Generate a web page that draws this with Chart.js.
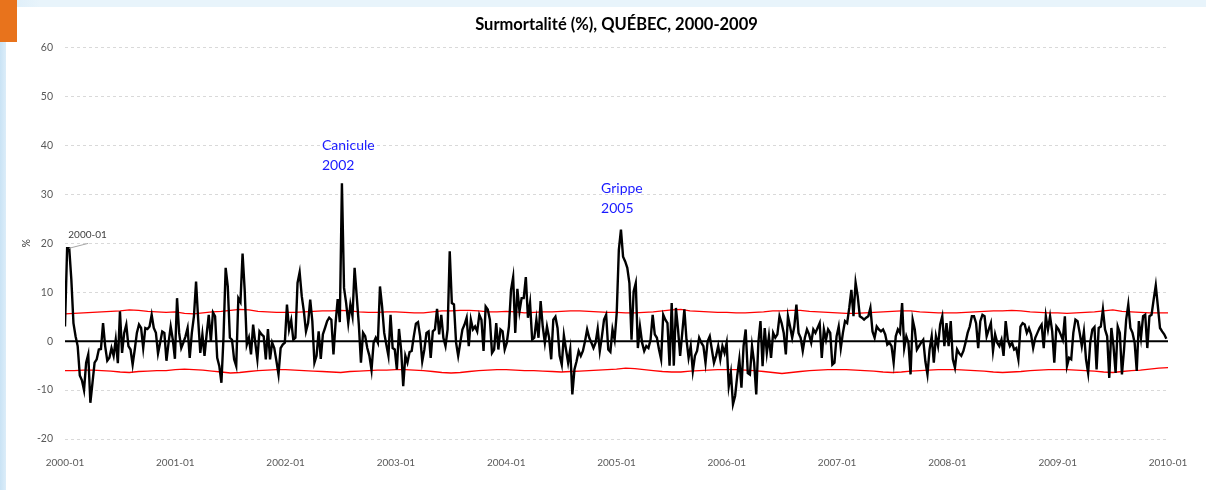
<!DOCTYPE html>
<html>
<head>
<meta charset="utf-8">
<script src="https://cdn.jsdelivr.net/npm/chart.js@4"></script>
<style>
  html, body { margin: 0; padding: 0; }
  body {
    width: 1206px; height: 490px; overflow: hidden; position: relative;
    background: linear-gradient(to right, #c9e3f5 0px, #dcedf9 6px, #e8f4fb 40px, #e8f4fb 100%);
  }
  #panel { position: absolute; left: 6px; top: 7px; width: 1200px; height: 483px; background: #fff; }
  #tab { position: absolute; left: 0; top: 0; width: 17px; height: 42px; background: #e8731c; }
  canvas { display: block; }
</style>
</head>
<body>
<div id="panel"><canvas id="myChart" width="1200" height="483"></canvas></div>
<div id="tab"></div>
<script>
// tick labels of the time axis
const yearLabels = ['2000-01', '2001-01', '2002-01', '2003-01', '2004-01', '2005-01',
  '2006-01', '2007-01', '2008-01', '2009-01', '2010-01']

// weekly excess mortality (%), one row per year
const excess = [
  3, 19, 19, 12.6, 3.7, 1, -1, -7, -8, -10, -4.4, -2.7, -12.6, -8.5, -4.4, -3.7, -1.7, -1.6, 3.7, -1, -4, -3.4, -1.4, -3, 0.3, -4.5, 6.1, -2.4, 1.7, 3.4, -1, -1.7, -4.8, -1.7, 1.7, 3.4, 2.7, -1.4, 2.7, 2.5, 3, 5.4, 2.7, 1.7, -2.5, -0.3, 2, 1.7, -4, -0.3, 3, 0.3,
  -3.6, 8.8, 1.7, -1.4, -0.3, 1, 2.7, -3.4, 1.7, 5.1, 12.2, 4.4, -2.4, 1.4, -3, 1.4, 5.4, 0, 5.9, 5.1, -3.4, -5.1, -8.5, 1, 15, 11.2, 0.7, 0.3, -3.7, -5.1, 8.8, 8, 17.9, 10.5, -0.7, 0.7, -2.7, 3.4, -0.3, -3.7, 2, 1.4, 1, -3.7, 2.5, -3.7, -0.3, -1.4, -4, -6.8, -1.4, -0.7,
  -0.3, 7.5, 2.4, 4.3, 0.3, 0.7, 11.9, 14.1, 9.2, 6.1, 2, 3.7, 8.5, 4.1, -4.4, -3, 2, -3.6, 1.4, 2.7, 4.1, 4.8, 4.4, -2.7, 3.7, 8.6, 3.9, 32.3, 10.9, 7.8, 3.7, 7.5, 5.1, 15, 9.2, 3.4, -4.4, 1.7, 1, -1.4, -3, -5.9, -0.3, 0.7, -0.3, 11.2, 7.1, 1.7, -0.7, -3, 5.4, -1.4,
  -1.7, -5.8, 2.5, -1.7, -9.2, -3, -4.4, -2.2, -2, 1, 3.6, 3.9, 1, -4.1, -1.7, 1.7, 2, -3.4, 2, 2.4, 6.6, 1.4, 5.4, 0.7, -1, 2.4, 18.4, 7.8, 7.5, -0.3, -3, -0.3, 2.4, 3.4, 4.8, -1, 4.4, 2.4, 3, 2, 5.4, 4.4, -2, 7.1, 6.5, 4.4, -2.4, -1.7, 3.7, -1.7, 2.4, 2,
  -1.7, -0.3, 3, 10.5, 13.1, 1.7, 10.7, 6.1, 8.8, 8.8, 13.1, 4.8, 7.8, 0.3, 0.7, 4.4, 0.7, 8.2, 3, -0.3, 3, 0.7, -3.7, 4.4, 5, 2.7, -3, -4.8, 1.2, -1.7, -4.4, -1.7, -10.9, -5.8, -4.1, -2, -3, -2, 0, 2.4, 0.7, -0.3, -1.4, -0.3, 2.5, -2, 1, 4.4, 5.4, -1.7, -2.2, 2.4, 0.3,
  5.8, 18.7, 22.8, 17.3, 16.3, 15, 11.9, 0.3, 10.2, 11.9, -1.4, 3, -0.3, -2, -1, -1.4, 0.3, 5.4, 1.4, 0.7, -1.7, -3.7, 5.4, 4.4, 3.7, -5, 7.8, -5, 6.8, 2.4, -3, 1.7, 6.5, 0.3, -3.4, -1, -6.1, -3, -2, 0.7, -0.3, -1, -4.4, 0, 1, -1.7, -4.4, -3, -1, -3.7, -1, -2.4,
  -0.3, -9.2, -6.5, -12.9, -11.2, -7.1, -3.7, -9.5, -1, 2.4, -6.5, -6.8, -1, -4.4, -10.9, -0.3, 4.1, -5.1, 2.7, -2.4, 1, -3.4, 1.7, 0.7, 1.4, 5.1, 3.7, 1.7, -2.7, 5.1, 3, 0.7, 3, 7.5, 1.7, 0.7, -2, 0.7, 2.4, 1.4, -0.3, 2.4, 1.7, 2.7, 3.7, -3.4, 2.4, 0.3, 2.4, 1.7, -4.8, -4.4,
  1, 3, -1.4, 1.7, 4.1, 3.7, 6.8, 10.5, 5.1, 12, 9.2, 5.1, 4.8, 4.4, 4.8, 5.1, 6.8, 2, 0.7, 3, 2.4, 2, 2.4, 1.4, -0.7, -0.3, -1, -4.4, 1, 2.4, 1.7, 7.8, -1.4, 1, -0.3, -6.8, 4.4, 2.4, -1.7, -1, -0.3, 0.3, -4.1, -6.8, -1.7, 1, -4.4, 1, -1, 3.4, 5.1, -1,
  3.7, -1, 4.1, -3.7, -5.4, -1.7, -2.5, -3, -2, -0.3, 1.7, 3, 5.1, 5.1, 3.7, -1.4, 4.1, 5.4, 5.1, 1, 2.4, 3.7, -2, 1.4, -0.3, -1, 0.3, -3, 4.1, 0.3, -1, -0.3, -1.7, -1.4, -3.7, 3, 3.7, 3.4, 1.7, 2.7, 1.4, -1.4, 0.7, 1.7, 2.7, 3.4, -1.4, 5.1, 2.4, 5.1, 2, -4.4,
  3, 2.4, 1.4, 0.3, 5.1, -5.1, -3.4, -3.7, 1.7, 4.4, 4.1, 1.7, -1, 2, -3.7, -6.5, -0.3, 2.4, 2.9, -5.8, 2.7, 3, 6.5, 2.4, 1, -7.5, 2.7, -1, -6.5, 3, 1.7, -6.8, -1.7, 4.4, 7.5, 2.7, 1.7, -0.3, -6.1, 4.1, 0.7, 5.1, 5.4, -1.4, 5.1, 5.4, 8.5, 11.4, 7.1, 2.7, 2, 1.4, 0.5
]

// monthly upper / lower limits (%), 2000-01 to 2010-01
const upperLimit = [
  5.6, 5.7, 5.8, 5.9, 6.0, 6.1, 6.2, 6.4, 6.3, 6.1, 6.0, 5.9,
  6.0, 5.7, 5.6, 5.8, 6.0, 6.1, 6.3, 6.5, 6.4, 6.1, 6.0, 5.9,
  5.9, 5.9, 6.0, 6.1, 6.2, 6.2, 6.3, 6.2, 6.0, 5.9, 5.9, 6.0,
  6.0, 5.9, 5.8, 5.8, 6.0, 6.2, 6.2, 6.3, 6.3, 6.2, 6.0, 6.0,
  6.1, 6.0, 5.8, 5.9, 6.0, 6.0, 6.1, 6.2, 6.2, 6.1, 6.0, 5.9,
  5.9, 5.8, 5.8, 5.9, 6.0, 6.2, 6.4, 6.5, 6.2, 6.1, 6.0, 5.9,
  5.9, 5.8, 5.8, 5.9, 6.0, 6.2, 6.2, 6.3, 6.3, 6.1, 6.0, 5.9,
  5.8, 5.7, 5.7, 5.8, 5.9, 6.0, 6.1, 6.2, 6.2, 6.0, 5.9, 5.8,
  5.8, 5.8, 5.9, 6.0, 6.1, 6.2, 6.2, 6.3, 6.2, 6.0, 5.9, 5.8,
  5.8, 5.7, 5.8, 5.9, 6.0, 6.2, 6.4, 6.1, 6.0, 5.9, 5.8, 5.8,
  5.8
]
const lowerLimit = [
  -6.0, -6.0, -5.9, -5.9, -6.0, -6.1, -6.3, -6.4, -6.2, -6.1, -6.0, -6.0,
  -5.8, -5.7, -5.8, -5.9, -6.1, -6.3, -6.5, -6.4, -6.2, -6.0, -5.9, -5.8,
  -5.8, -5.9, -6.0, -6.1, -6.2, -6.3, -6.4, -6.2, -6.1, -6.0, -5.9, -5.9,
  -5.8, -5.8, -5.9, -6.0, -6.2, -6.4, -6.5, -6.4, -6.2, -6.0, -5.9, -5.8,
  -5.8, -5.9, -6.0, -6.0, -6.1, -6.2, -6.3, -6.2, -6.1, -6.0, -5.9, -5.8,
  -5.7, -5.5, -5.6, -5.8, -6.0, -6.2, -6.3, -6.3, -6.1, -6.0, -5.9, -5.8,
  -5.8, -5.8, -5.9, -6.0, -6.2, -6.4, -6.6, -6.4, -6.2, -6.0, -5.9, -5.8,
  -5.8, -5.8, -5.9, -6.0, -6.1, -6.3, -6.4, -6.3, -6.1, -6.0, -5.9, -5.8,
  -5.8, -5.8, -5.9, -6.0, -6.1, -6.3, -6.4, -6.3, -6.2, -6.0, -5.9, -5.8,
  -5.8, -5.8, -5.9, -6.0, -6.1, -6.3, -6.4, -6.2, -6.0, -5.9, -5.7, -5.5,
  -5.4
]

// text notes, placed in data units (year, %)
const notes = [
  { lines: ['Canicule', '2002'], x: 2002.33, y: 40.1, color: '#1a1aff', size: 14 },
  { lines: ['Grippe', '2005'], x: 2004.86, y: 31.3, color: '#1a1aff', size: 14 }
]
const firstLabel = { text: '2000-01', x: 2000.03, y: 21.8, from: [2000.036, 19], to: [2000.21, 20] }

const weekToYear = (i) => 2000 + i * 7 / 365.25
const monthToYear = (m) => 2000 + m / 12

const notesPlugin = {
  id: 'notes',
  afterDatasetsDraw(chart) {
    const { ctx, scales: { x, y } } = chart
    ctx.save()
    ctx.textBaseline = 'middle'
    ctx.textAlign = 'left'
    notes.forEach(n => {
      ctx.fillStyle = n.color
      ctx.font = n.size + 'px Lato'
      n.lines.forEach((t, k) => {
        ctx.fillText(t, x.getPixelForValue(n.x), y.getPixelForValue(n.y) + k * 20)
      })
    })
    // leader line + label of the first point
    ctx.strokeStyle = '#a6a6a6'
    ctx.lineWidth = 1
    ctx.beginPath()
    ctx.moveTo(x.getPixelForValue(firstLabel.from[0]), y.getPixelForValue(firstLabel.from[1]))
    ctx.lineTo(x.getPixelForValue(firstLabel.to[0]), y.getPixelForValue(firstLabel.to[1]))
    ctx.stroke()
    ctx.fillStyle = '#404040'
    ctx.font = '10px Lato'
    ctx.fillText(firstLabel.text, x.getPixelForValue(firstLabel.x), y.getPixelForValue(firstLabel.y))
    ctx.restore()
  }
}

const ctx = document.getElementById('myChart').getContext('2d')
const chart = new Chart(ctx, {
  type: 'line',
  data: {
    datasets: [{
      label: 'Surmortalité',
      data: excess.map((v, i) => ({ x: weekToYear(i), y: v })),
      borderColor: '#000',
      borderWidth: 2.4,
      pointRadius: 0,
      order: 0
    }, {
      label: 'zero',
      data: [{ x: 2000, y: 0 }, { x: 2010, y: 0 }],
      borderColor: '#000',
      borderWidth: 2,
      pointRadius: 0,
      order: 1
    }, {
      label: 'upper',
      data: upperLimit.map((v, m) => ({ x: monthToYear(m), y: v })),
      borderColor: '#ff0000',
      borderWidth: 1.3,
      pointRadius: 0,
      order: 2
    }, {
      label: 'lower',
      data: lowerLimit.map((v, m) => ({ x: monthToYear(m), y: v })),
      borderColor: '#ff0000',
      borderWidth: 1.3,
      pointRadius: 0,
      order: 2
    }]
  },
  options: {
    responsive: false,
    animation: false,
    devicePixelRatio: 1,
    layout: { padding: { left: 0, right: 38, top: 0, bottom: 0 } },
    plugins: {
      legend: { display: false },
      tooltip: { enabled: false },
      title: {
        display: true,
        fullSize: false,
        text: 'Surmortalité (%), QUÉBEC, 2000-2009',
        color: '#000',
        font: { family: 'Lato', size: 16.5, weight: 'bold' },
        padding: { top: 8, bottom: 13 }
      }
    },
    scales: {
      x: {
        type: 'linear',
        min: 2000,
        max: 2010,
        afterBuildTicks: (scale) => {
          scale.ticks = yearLabels.map((_, k) => ({ value: 2000 + k }))
        },
        ticks: {
          callback: (v) => yearLabels[Math.round(v - 2000)],
          color: '#595959',
          font: { family: 'Lato', size: 10 },
          padding: 10,
          maxRotation: 0,
          autoSkip: false
        },
        grid: { display: false },
        border: { display: false },
        afterFit: (scale) => { scale.height = 51 }
      },
      y: {
        min: -20,
        max: 60,
        ticks: {
          stepSize: 10,
          color: '#595959',
          font: { family: 'Lato', size: 10.5 },
          padding: 12
        },
        grid: { color: '#d9d9d9', lineWidth: 1, drawTicks: false },
        border: { display: false, dash: [3, 3] },
        title: {
          display: true,
          text: '%',
          color: '#404040',
          font: { family: 'Lato', size: 10.5 },
          padding: { top: 14, bottom: 0 }
        },
        afterFit: (scale) => { scale.width = 59 }
      }
    }
  },
  plugins: [notesPlugin]
})
</script>
</body>
</html>
